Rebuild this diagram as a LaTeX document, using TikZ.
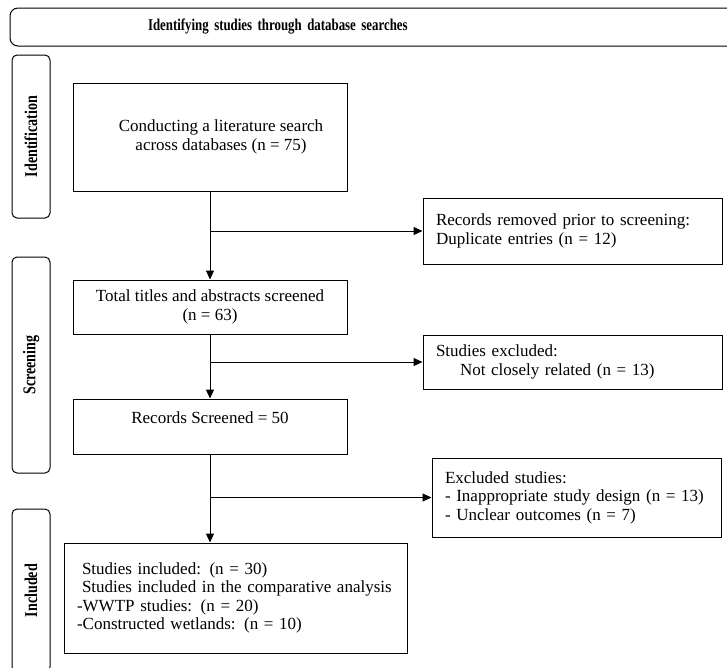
\documentclass[tikz,border=0pt]{standalone}
\usepackage{fontspec}
\setmainfont{Liberation Serif}
\newfontfamily\narrowbf[FakeStretch=0.78,UprightFont={* Bold}]{Liberation Serif}
\usetikzlibrary{arrows.meta}

\begin{document}
\begin{tikzpicture}[x=1pt,y=-1pt,
  every node/.style={font=\fontsize{17}{18.5}\selectfont},
  box/.style={draw, line width=1pt, inner sep=0pt, align=center},
  sidebox/.style={box, text width=273pt, align=left, inner xsep=13pt},
  phase/.style={draw, line width=1pt, rounded corners=5pt, rotate=90, minimum height=38pt, inner sep=0pt, font=\narrowbf\fontsize{18}{20}\selectfont},
  arr/.style={line width=1pt, -{Triangle[length=9pt,width=8pt]}}]
\useasboundingbox (0,0) rectangle (727,667);

% heading and phases
\node[draw, line width=1pt, rounded corners=8pt, minimum height=38pt, text width=454pt, inner xsep=138pt, align=left, font=\narrowbf\fontsize{16.5}{19}\selectfont] (head) at (375,27) {Identifying studies through database searches};
\node[phase, minimum width=163pt] (idph) at (31,136.5) {Identification};
\node[phase, minimum width=216pt] (scph) at (31,365) {Screening};
\node[phase, minimum width=163pt] (inph) at (31,590.5) {Included};

% main column
\node[box, minimum width=274pt, minimum height=108pt] (search) at (210,137) {\hspace*{22pt}Conducting a literature search\\\hspace*{22pt}across databases (n = 75)};
\node[box, minimum width=274pt, minimum height=54pt] (titles) at (210,307) {Total titles and abstracts screened\\(n = 63)};
\node[box, minimum width=274pt, minimum height=55pt] (records) at (210,426.5) {Records Screened = 50\\\mbox{}};
\node[box, text width=317pt, align=left, inner xsep=13pt, minimum height=110pt] (included) at (235.5,598) {\hspace*{5pt}Studies included: (n = 30)\\\hspace*{5pt}Studies included in the comparative analysis\\-WWTP studies: (n = 20)\\-Constructed wetlands: (n = 10)};

% exclusions
\node[sidebox, minimum height=66pt] (removed) at (572.5,231) {Records removed prior to screening:\\Duplicate entries (n = 12)};
\node[sidebox, minimum height=54pt] (notrel) at (572.5,362) {Studies excluded:\\\hspace*{24pt}Not closely related (n = 13)};
\node[sidebox, text width=263pt, minimum height=79pt] (design) at (576.5,497.5) {Excluded studies:\\- Inappropriate study design (n = 13)\\- Unclear outcomes (n = 7)};

% connectors
\coordinate (j1) at (search.south |- removed.west);
\coordinate (j2) at (titles.south |- notrel.west);
\coordinate (j3) at (records.south |- design.west);
\draw[arr] (search) -- (titles);
\draw[arr] (j1) -- (removed);
\draw[arr] (titles) -- (records);
\draw[arr] (j2) -- (notrel);
\draw[line width=1pt] (records) -- (j3);
\draw[arr] (j3) -- (j3 |- included.north);
\draw[arr] (j3) -- (design);
\end{tikzpicture}
\end{document}
